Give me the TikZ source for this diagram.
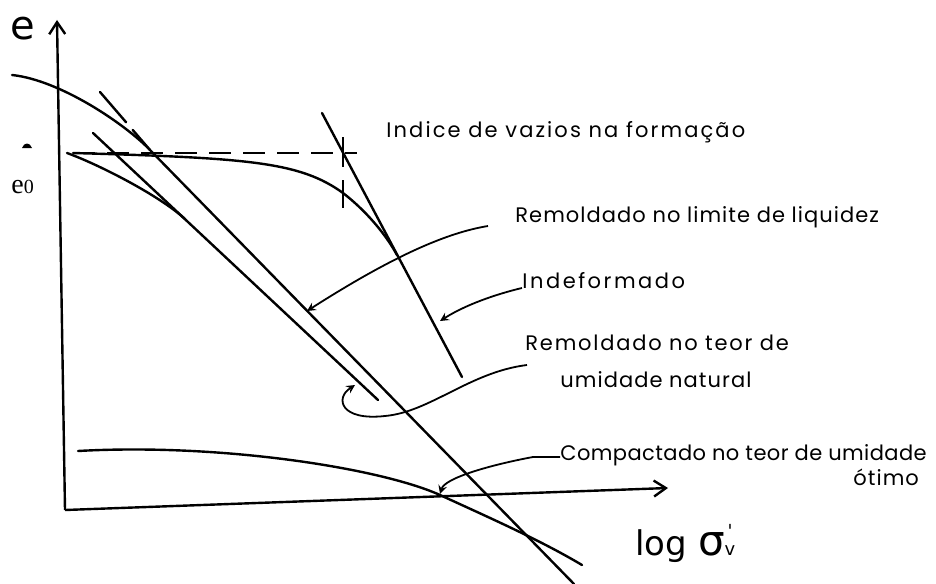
\documentclass[tikz,border=0pt]{standalone}
\usepackage{fontspec}
\usepackage{tikz}
\usetikzlibrary{arrows,arrows.meta}
\newfontfamily\lettering{Poppins}
\newfontfamily\axisfont{DejaVu Sans}
\newfontfamily\serifnum{Liberation Serif}

\begin{document}
\begin{tikzpicture}[x=0.5pt,y=-0.5pt,
    curve/.style={line width=1.2pt,line cap=round},
    axis/.style={line width=1.2pt,-{Straight Barb[length=6pt,width=8pt]}},
    dashline/.style={line width=1.2pt,dash pattern=on 11pt off 6pt},
    leader/.style={line width=0.9pt,-stealth},
    lbl/.style={font=\lettering\addfontfeatures{LetterSpace=#1}\fontsize{10.5}{12}\selectfont,anchor=base west,inner sep=0pt},
    lbl/.default=5]
    \useasboundingbox (0,0) rectangle (936,583);

    % axes
    \coordinate (orig) at (65,510);
    \coordinate (ytip) at (57,20);
    \coordinate (xtip) at (668,488);
    \draw[axis] (orig) -- (ytip);
    \draw[axis] (orig) -- (xtip);
    \node[font=\axisfont\fontsize{20}{22}\selectfont,anchor=base,inner sep=0pt] (elab) at (23,40) {e};
    \node[font=\serifnum\fontsize{14}{15}\selectfont,anchor=base west,inner sep=0pt] (e0) at (11,193) {e{\fontsize{10}{10}\selectfont 0}};
    \fill (22,148) .. controls (24,142) and (30,142) .. (32,148) -- cycle;
    \node[font=\axisfont\fontsize{17}{18}\selectfont,anchor=base west,inner sep=0pt] (xlab) at (635,555) {log {\fontsize{21}{22}\selectfont σ}\shortstack{{\fontsize{9}{9}\selectfont\textquotesingle}\\[1pt]{\fontsize{9}{9}\selectfont v}}};

    % curves
    \draw[curve] (12,75) .. controls (60,80) and (125,124) .. (150,150);
    \draw[curve,dash pattern=on 20pt off 5pt] (100,92) -- (150,150);
    \draw[curve] (150,150) -- (574,584);
    \draw[curve] (73,153) .. controls (250,158) and (300,162) .. (343,193) .. controls (365,210) and (385,233) .. (397,255);
    \draw[curve] (322,113) -- (462,377);
    \draw[curve] (93,133) -- (378,400);
    \draw[curve] (67,153) .. controls (100,165) and (160,196) .. (185,219);
    \draw[curve] (78,451) .. controls (220,443) and (380,468) .. (440,495) .. controls (490,518) and (540,540) .. (582,565);
    \draw[dashline] (73,153) -- (357,153);
    \draw[dashline,dash pattern=on 15pt off 6.5pt] (343,137) -- (343,208);

    % labels
    \node[lbl=10] (form) at (386,137) {Indice de vazios na formação};
    \node[lbl] (lim) at (515,222) {Remoldado no limite de liquidez};
    \node[lbl=12] (indef) at (522,288) {Indeformado};
    \node[lbl=8.5] (teor) at (525,350) {Remoldado no teor de};
    \node[lbl] (nat) at (560,387) {umidade natural};
    \node[lbl=2] (comp) at (560,460) {Compactado no teor de umidade};
    \node[lbl] (otimo) at (853,485) {ótimo};

    \coordinate (pLim) at (307,311);
    \coordinate (pIndef) at (440,321);
    \coordinate (pNat) at (355,385);
    \coordinate (pComp) at (440,494);

    % leaders
    \draw[leader] ([xshift=-13.5pt,yshift=-2pt]lim.base west) .. controls (445,233) and (390,258) .. (pLim);
    \draw[leader] (indef.base west) .. controls (505,292) and (470,302) .. (pIndef);
    \draw[leader] ([xshift=1pt,yshift=-7.5pt]teor.base west) .. controls (470,372) and (430,412) .. (385,416) .. controls (340,421) and (335,398) .. (pNat);
    \draw[leader] ([yshift=1.5pt]comp.base west) -- (533,457) .. controls (490,465) and (445,478) .. (pComp);
\end{tikzpicture}
\end{document}
